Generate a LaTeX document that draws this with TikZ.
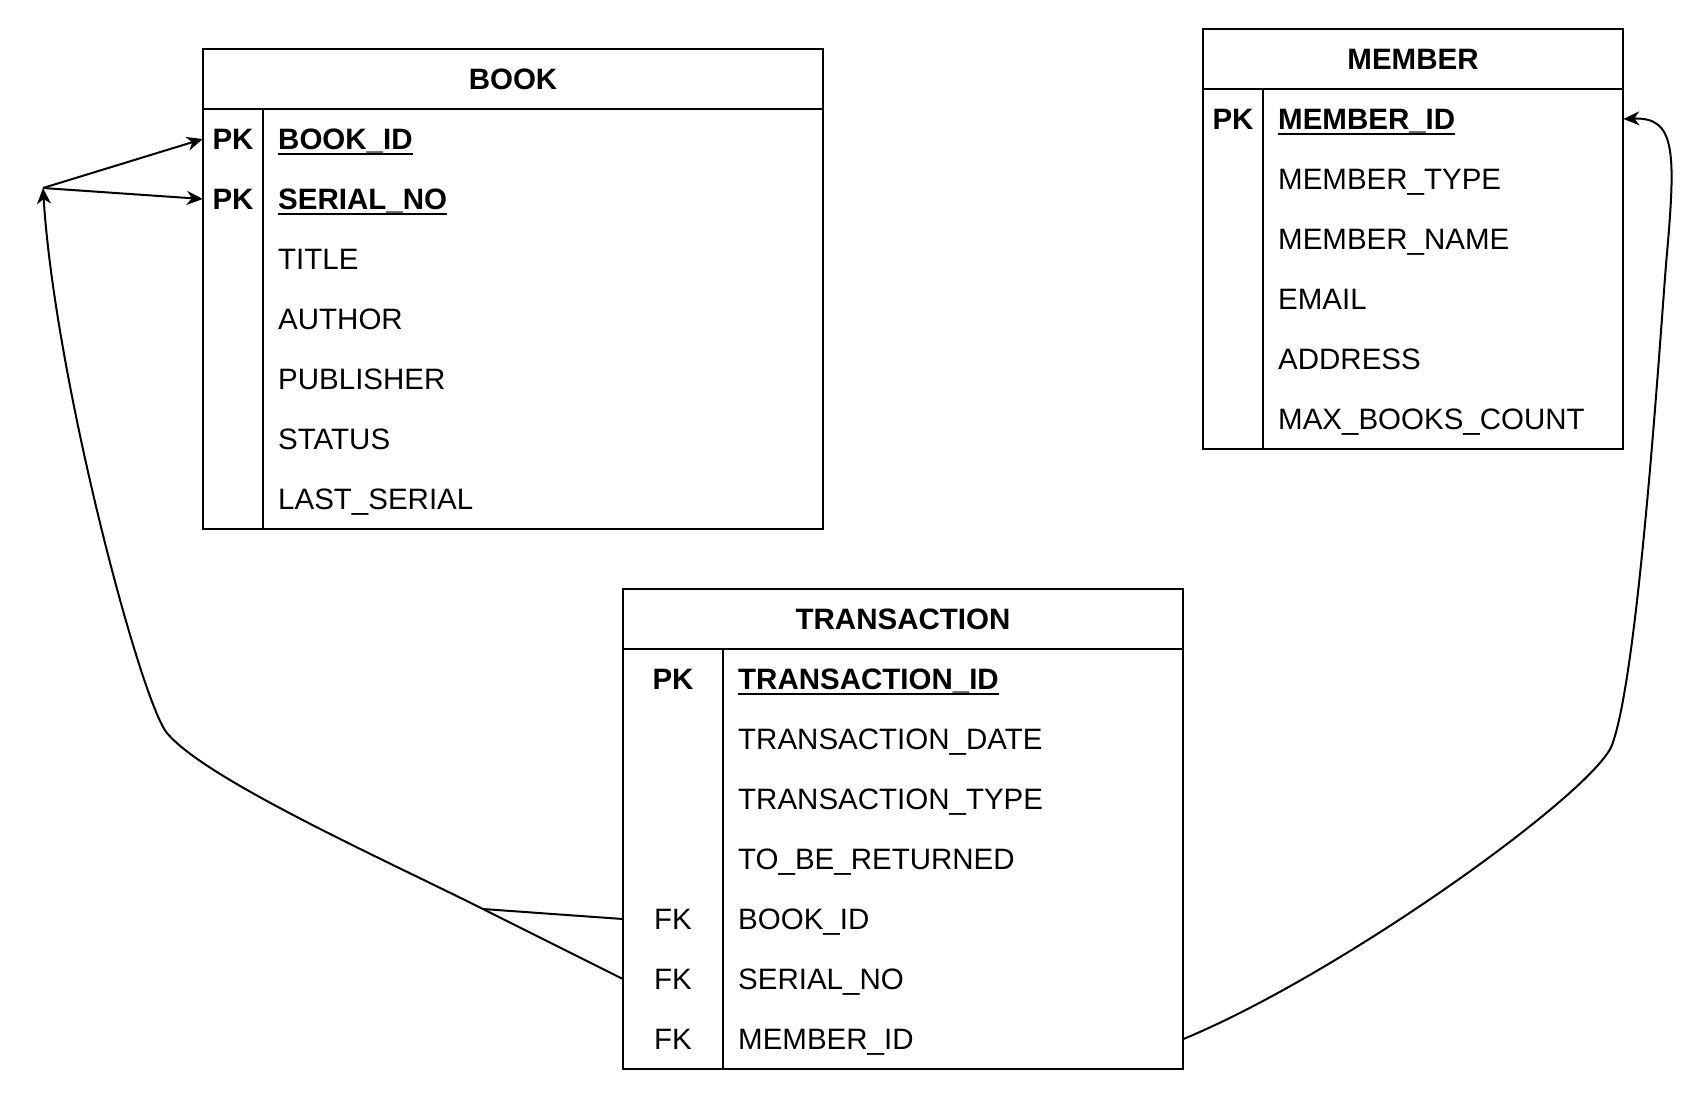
\documentclass[tikz,border=0pt]{standalone}
\usepackage{fontspec}
\setmainfont{Liberation Sans}
\usetikzlibrary{arrows.meta}
\newcommand{\erfont}{\fontsize{29.5}{34}\selectfont}
\newcommand{\pkname}[1]{\setbox0\hbox{\textbf{#1}}\rlap{\rule[-5pt]{\wd0}{2pt}}\box0}
\tikzset{
  tbl/.style={line width=2pt},
  cell/.style={inner ysep=0pt, text height=21pt, text depth=0pt, minimum height=60pt, font=\erfont},
  keycell/.style={cell, inner xsep=0pt, font=\erfont\bfseries},
  fkcell/.style={cell, inner xsep=0pt},
  field/.style={cell, anchor=west, inner xsep=15pt, align=left},
  tabletitle/.style={cell, font=\erfont\bfseries},
  fkline/.style={line width=2pt},
  arrowtip/.style={-{Stealth[length=16pt,width=14pt,inset=5pt]}}
}
\begin{document}
\begin{tikzpicture}[x=1pt,y=-1pt]
      \useasboundingbox (0,0) rectangle (1704,1098);
%
% BOOK
      \draw[tbl] (203,49) rectangle (823,529);
      \draw[tbl] (203,109) -- (823,109);
      \draw[tbl] (263,109) -- (263,529);
      \node[tabletitle] (book) at (513,79) {BOOK};
      \node[keycell, minimum width=60pt] (bookpkid) at (233,139) {PK};
      \node[keycell, minimum width=60pt] (bookpkserial) at (233,199) {PK};
      \node[field, text width=530pt] (bookid) at (263,139) {\pkname{BOOK\_ID}};
      \node[field, text width=530pt] (bookserial) at (263,199) {\pkname{SERIAL\_NO}};
      \foreach \name [count=\i] in {TITLE,AUTHOR,PUBLISHER,STATUS,LAST\_SERIAL}
        \node[field, text width=530pt] (book\i) at (263,199+60*\i) {\name};
%
% MEMBER
      \draw[tbl] (1203,29) rectangle (1623,449);
      \draw[tbl] (1203,89) -- (1623,89);
      \draw[tbl] (1263,89) -- (1263,449);
      \node[tabletitle] (member) at (1413,59) {MEMBER};
      \node[keycell, minimum width=60pt] (memberpk) at (1233,119) {PK};
      \node[field, text width=330pt] (memberid) at (1263,119) {\pkname{MEMBER\_ID}};
      \foreach \name [count=\i] in {MEMBER\_TYPE,MEMBER\_NAME,EMAIL,ADDRESS,MAX\_BOOKS\_COUNT}
        \node[field, text width=330pt] (member\i) at (1263,119+60*\i) {\name};
%
% TRANSACTION
      \draw[tbl] (623,589) rectangle (1183,1069);
      \draw[tbl] (623,649) -- (1183,649);
      \draw[tbl] (723,649) -- (723,1069);
      \node[tabletitle] (transaction) at (903,619) {TRANSACTION};
      \node[keycell, minimum width=100pt] (trpk) at (673,679) {PK};
      \node[field, text width=430pt] (trid) at (723,679) {\pkname{TRANSACTION\_ID}};
      \foreach \name [count=\i] in {TRANSACTION\_DATE,TRANSACTION\_TYPE,TO\_BE\_RETURNED}
        \node[field, text width=430pt] (tr\i) at (723,679+60*\i) {\name};
      \node[fkcell, minimum width=100pt] (trfkbook) at (673,919) {FK};
      \node[fkcell, minimum width=100pt] (trfkserial) at (673,979) {FK};
      \node[fkcell, minimum width=100pt] (trfkmember) at (673,1039) {FK};
      \node[field, text width=430pt] (trbook) at (723,919) {BOOK\_ID};
      \node[field, text width=430pt] (trserial) at (723,979) {SERIAL\_NO};
      \node[field, text width=430pt] (trmember) at (723,1039) {MEMBER\_ID};
%
% links
      \coordinate (hub) at (43,188);
      \coordinate (split) at (483,909);
      \draw[fkline] (trfkbook.west) -- (split);
      \draw[fkline, arrowtip] (trfkserial.west) -- (split)
        .. controls (383,859) and (205,779) .. (167,733)
        .. controls (141,702) and (55,380) .. (hub);
      \draw[fkline, arrowtip] (hub) -- (bookpkid.west);
      \draw[fkline, arrowtip] (hub) -- (bookpkserial.west);
%
      \draw[fkline, arrowtip] (trmember.east)
        .. controls (1343,973) and (1594,792) .. (1612,745)
        .. controls (1640,670) and (1662,305) .. (1667,253)
        .. controls (1676,150) and (1675,117) .. (memberid.east);
%
\end{tikzpicture}
\end{document}
